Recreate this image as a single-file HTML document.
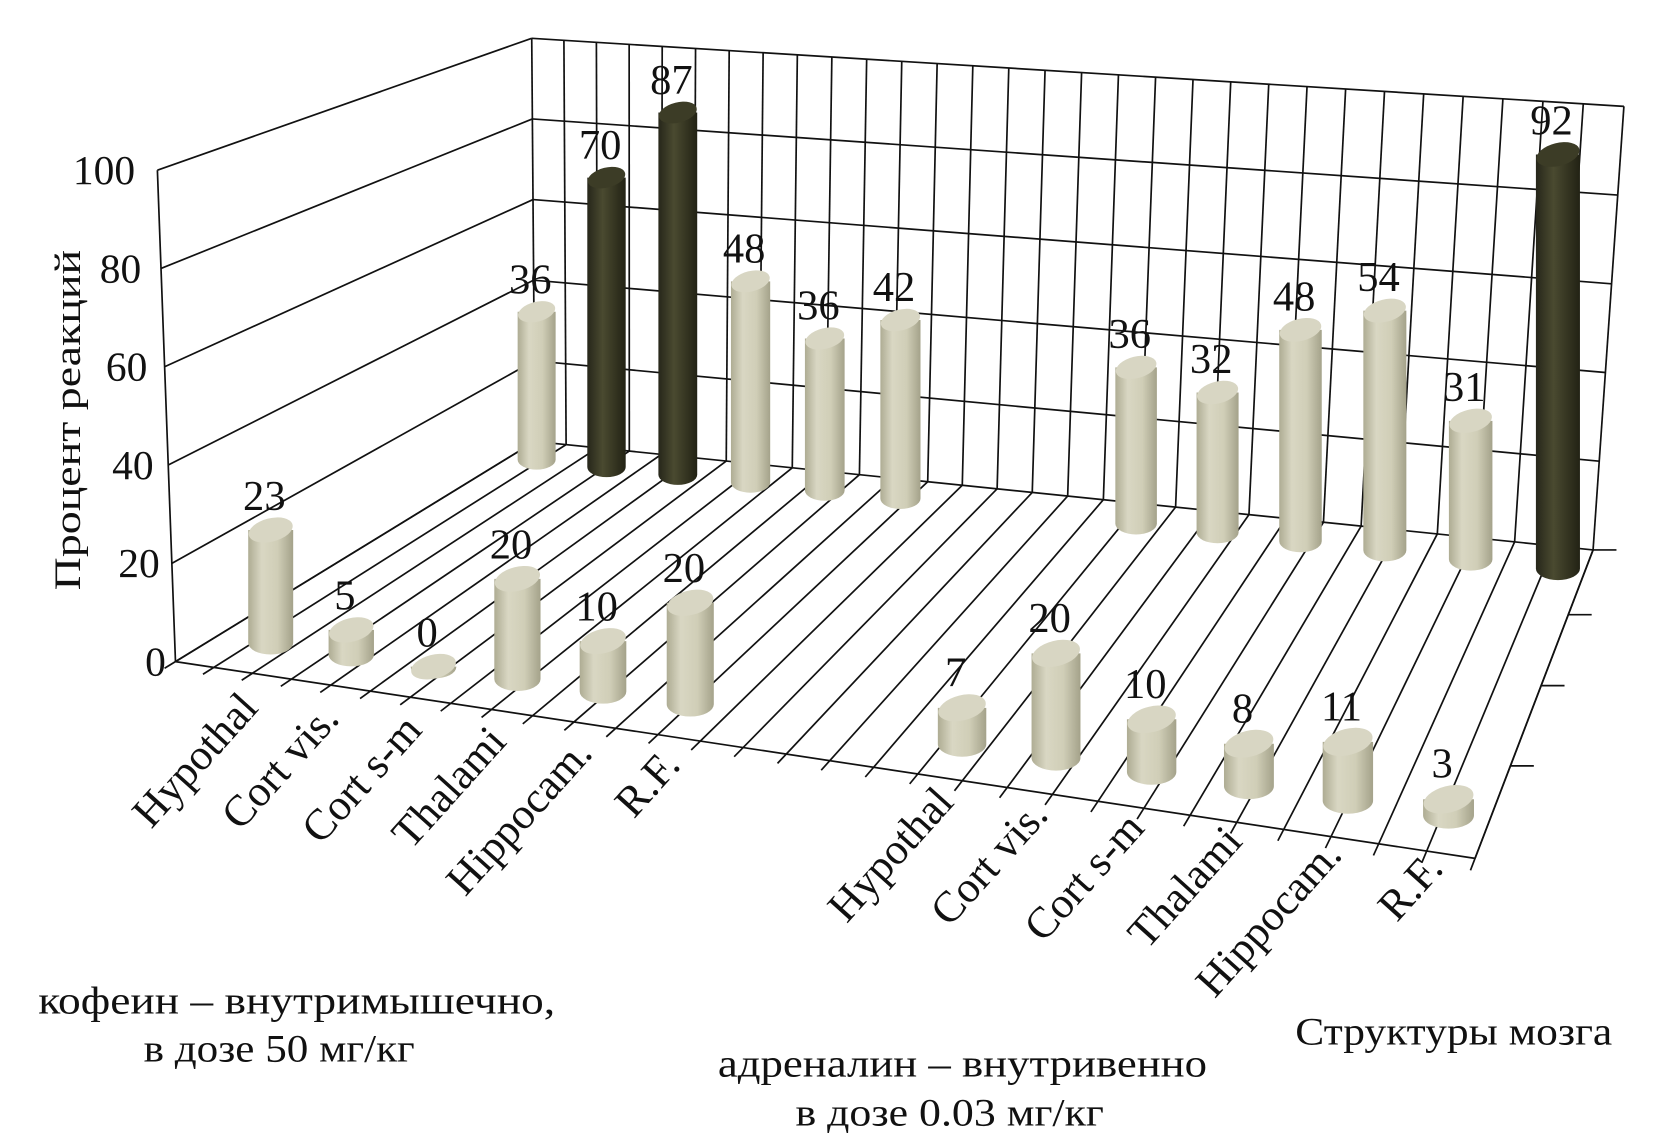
<!DOCTYPE html>
<html><head><meta charset="utf-8"><style>
html,body{margin:0;padding:0;background:#fff;}
svg{display:block;}
text{font-family:"Liberation Serif","DejaVu Serif",serif;fill:#111;}
</style></head><body>
<svg id="chart" width="1659" height="1136" viewBox="0 0 1560 1068" preserveAspectRatio="none" xmlns="http://www.w3.org/2000/svg">
<defs>
<linearGradient id="gl" x1="0" x2="1" y1="0" y2="0">
<stop offset="0" stop-color="#aeac93"/><stop offset="0.3" stop-color="#d9d7c3"/><stop offset="0.65" stop-color="#d0ceb7"/><stop offset="1" stop-color="#a4a28a"/>
</linearGradient>
<linearGradient id="gd" x1="0" x2="1" y1="0" y2="0">
<stop offset="0" stop-color="#26261a"/><stop offset="0.4" stop-color="#4a4a30"/><stop offset="1" stop-color="#222214"/>
</linearGradient>
</defs>
<g id="grid"></g>
<g id="bars"></g>
<g id="labels"></g>
<text x="0" y="0" transform="translate(75,395) rotate(-90)" text-anchor="middle" font-size="35" textLength="320" lengthAdjust="spacingAndGlyphs">Процент реакций</text>
<text x="36" y="953" font-size="37" textLength="486" lengthAdjust="spacingAndGlyphs">кофеин – внутримышечно,</text>
<text x="135" y="998" font-size="37" textLength="255" lengthAdjust="spacingAndGlyphs">в дозе 50 мг/кг</text>
<text x="675" y="1012" font-size="37" textLength="460" lengthAdjust="spacingAndGlyphs">адреналин – внутривенно</text>
<text x="748" y="1058" font-size="37" textLength="290" lengthAdjust="spacingAndGlyphs">в дозе 0.03 мг/кг</text>
<text x="1218" y="982" font-size="37" textLength="298" lengthAdjust="spacingAndGlyphs">Структуры мозга</text>
</svg>
<script>
const categories = ["Hypothal","Cort vis.","Cort s-m","Thalami","Hippocam.","R.F."];
const frontCaffeine = [23,5,0,20,10,20];
const frontAdrenaline = [7,20,10,8,11,3];
const backCaffeine = [36,70,87,48,36,42];
const backAdrenaline = [36,32,48,54,31,92];
const darkBackCaffeine = [false,true,true,false,false,false];
const darkBackAdrenaline = [false,false,false,false,false,true];
const yTicks = [0,20,40,60,80,100];

const NS="http://www.w3.org/2000/svg";
const FL=[165,622],FR=[1387,807],BL=[503,415],BR=[1498,517];
const K=0.12;
function g(x){return x+K*x*(x-1);}
function lerp(a,b,t){return a+(b-a)*t;}
function base(u,d){
  const fx=lerp(FL[0],FR[0],u),fy=lerp(FL[1],FR[1],u);
  const bx=lerp(BL[0],BR[0],u),by=lerp(BL[1],BR[1],u);
  return [lerp(fx,bx,d),lerp(fy,by,d)];
}
function barScale(u,d){return lerp(lerp(4.7,5.2,u),lerp(3.79,4.17,u),d);}
function backScale(u){return lerp(3.79,4.17,u);}
function tilt(u){return lerp(-3,29,u);}
function el(tag,attrs,parent){const e=document.createElementNS(NS,tag);for(const k in attrs)e.setAttribute(k,attrs[k]);parent.appendChild(e);return e;}
const grid=document.getElementById('grid');
const ls={stroke:"#111","stroke-width":"1.6",fill:"none"};
function line(x1,y1,x2,y2,name){const l=el('line',Object.assign({x1,y1,x2,y2},ls),grid);

return l;}

const N=30;
for(let i=0;i<=N;i++){
  const u=g(i/N);
  const f=base(u,0),b=base(u,1);
  const dx=f[0]-b[0],dy=f[1]-b[1],len=Math.hypot(dx,dy);
  line(f[0]+dx/len*12,f[1]+dy/len*12,b[0],b[1],'floor-gridline');
  line(b[0],b[1],b[0]+tilt(u),b[1]-100*backScale(u),'back-wall-vertical');
}
yTicks.forEach(v=>{
  const p0=base(0,1),p1=base(1,1);
  line(p0[0]+tilt(0)*v/100,p0[1]-v*backScale(0),p1[0]+tilt(1)*v/100,p1[1]-v*backScale(1),'back-wall-gridline');
});
function frontLeft(v){return [FL[0]-17*v/100,FL[1]-4.62*v];}
yTicks.forEach(v=>{
  const a=frontLeft(v),b=base(0,1);
  line(a[0],a[1],b[0]+tilt(0)*v/100,b[1]-v*backScale(0),'left-wall-gridline');
  const t=el('text',{x:a[0]-9-v*0.12,y:a[1]+13,"text-anchor":"end","font-size":"39"},grid);
  
  
  t.textContent=v;
});
{const a=frontLeft(0),b=frontLeft(100);line(a[0],a[1],b[0],b[1],'y-axis-line');}
line(FL[0],FL[1],FR[0],FR[1],'x-axis-line');
line(FR[0],FR[1],BR[0],BR[1],'depth-axis-line');
[1,0.79,0.56,0.3].forEach(d=>{
  const x=lerp(FR[0],BR[0],d),y=lerp(FR[1],BR[1],d);
  line(x,y,x+22,y,'depth-tick');
});

const barsG=document.getElementById('bars'),labG=document.getElementById('labels');
const rows={front:{d:0.12,a:0.041,b:0.968},back:{d:0.93,a:0.025,b:0.975}};
function drawBar(row,t,val,dark){
  const r=rows[row];
  const u=r.a+(r.b-r.a)*g(t/13);
  const p=base(u,r.d);
  const h=val*barScale(u,r.d);
  const w=35+(1-r.d)*8+u*6, rx=w/2, ry=w*0.26;
  const bx=p[0],by=p[1],ty=by-h;
  const grp=el('g',{},barsG);
  
  
  el('path',{d:`M${bx-rx},${ty} L${bx-rx},${by} A${rx},${ry} 0 0 0 ${bx+rx},${by} L${bx+rx},${ty} Z`,fill:dark?"url(#gd)":"url(#gl)"},grp);
  el('ellipse',{cx:bx,cy:ty,rx:rx,ry:ry,fill:dark?"#3c3c26":"#d8d6c3",transform:`rotate(-14 ${bx} ${ty})`},grp);
  const tx=el('text',{x:bx-6,y:ty-ry-8,"text-anchor":"middle","font-size":"40"},labG);
  
  
  tx.textContent=val;
}
backCaffeine.forEach((v,i)=>drawBar('back',i,v,darkBackCaffeine[i]));
backAdrenaline.forEach((v,i)=>drawBar('back',8+i,v,darkBackAdrenaline[i]));
frontCaffeine.forEach((v,i)=>drawBar('front',i,v,false));
frontAdrenaline.forEach((v,i)=>drawBar('front',8+i,v,false));

function catLabel(t,name){
  const r=rows.front;
  const u=r.a+(r.b-r.a)*g(t/13);
  const p=base(u,0);
  const x=p[0]+lerp(30,10,u),y=p[1]+lerp(38,16,u);
  const tx=el('text',{x:x,y:y,"text-anchor":"end","font-size":"41",transform:`rotate(-48 ${x} ${y})`},labG);
  
  
  tx.textContent=name;
}
categories.forEach((c,i)=>catLabel(i,c));
categories.forEach((c,i)=>catLabel(8+i,c));
</script>
</body></html>
